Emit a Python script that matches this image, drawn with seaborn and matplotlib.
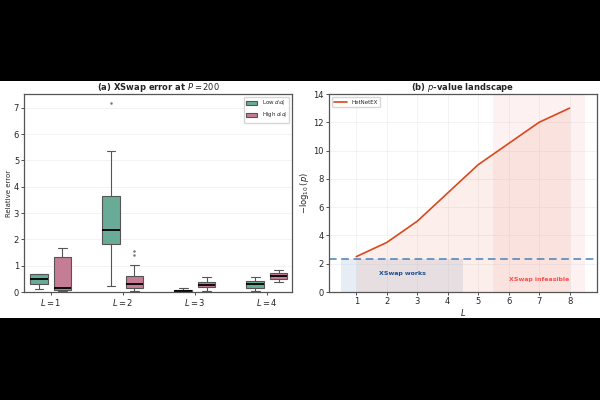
import numpy as np
import pandas as pd
import matplotlib
matplotlib.use("Agg")
import matplotlib.pyplot as plt
import seaborn as sns
from matplotlib.patches import Rectangle

# panel (a) data: relative error samples per path length and degree group
lengths = ["$L = 1$", "$L = 2$", "$L = 3$", "$L = 4$"]
groups = ["Low $d_i d_j$", "High $d_i d_j$"]
low_err = [
    [0.11, 0.25, 0.32, 0.44, 0.51, 0.60, 0.69, 0.70, 0.70],
    [0.23, 1.20, 1.82, 2.10, 2.34, 3.00, 3.63, 5.34, 7.18],
    [0.00, 0.005, 0.01, 0.02, 0.03, 0.05, 0.07, 0.11, 0.15],
    [0.04, 0.10, 0.17, 0.25, 0.32, 0.37, 0.41, 0.50, 0.57],
]
high_err = [
    [0.04, 0.06, 0.09, 0.13, 0.17, 0.80, 1.34, 1.50, 1.69],
    [0.04, 0.08, 0.11, 0.14, 0.20, 0.25, 0.29, 0.40, 0.52, 0.61, 1.04, 1.42, 1.56],
    [0.03, 0.12, 0.19, 0.25, 0.28, 0.32, 0.37, 0.45, 0.57],
    [0.37, 0.45, 0.51, 0.57, 0.61, 0.67, 0.74, 0.80, 0.85],
]

# panel (b) data
L_vals = [1, 2, 3, 4, 5, 6, 7, 8]
neglogp = [2.5, 3.5, 5.0, 7.0, 9.0, 10.5, 12.0, 13.0]
threshold = 2.3

rows = []
for i, lab in enumerate(lengths):
    for v in low_err[i]:
        rows.append((lab, groups[0], v))
    for v in high_err[i]:
        rows.append((lab, groups[1], v))
df = pd.DataFrame(rows, columns=["L", "group", "err"])

sns.set_style("whitegrid")
plt.rcParams["font.family"] = ["DejaVu Sans"]

fig = plt.figure(figsize=(6, 4), dpi=100)
fig.patch.set_facecolor("black")
fig.add_artist(Rectangle((0, 0.205), 1, 0.5925, transform=fig.transFigure,
                         facecolor="white", edgecolor="none", zorder=0))

ax1 = fig.add_axes([0.04, 0.27, 0.447, 0.495])
ax2 = fig.add_axes([0.548, 0.27, 0.447, 0.495])

# (a) boxplot
sns.boxplot(data=df, x="L", y="err", hue="group", order=lengths, hue_order=groups,
            palette=["#6aab98", "#c57d95"], saturation=1, width=0.65, gap=0.25,
            linewidth=0.8, linecolor="#555555", ax=ax1,
            medianprops=dict(color="black", linewidth=1.3),
            flierprops=dict(marker="o", markersize=0.8, markerfacecolor="#777777",
                            markeredgecolor="#777777"))
ax1.set_xlim(-0.37, 3.35)
ax1.set_ylim(0, 7.52)
ax1.set_xlabel("")
ax1.set_ylabel("Relative error", fontsize=5, labelpad=1)
ax1.set_title("(a) XSwap error at $P = 200$", fontsize=6, fontweight="bold", pad=3)
ax1.xaxis.grid(False)
ax1.yaxis.grid(True, color="#eeeeee", linewidth=0.5)
ax1.legend(loc="upper right", fontsize=4, frameon=True, handlelength=2,
           borderpad=0.4, labelspacing=0.3)

# (b) p-value landscape
ax2.fill_between([0.5, 4.5], 0, threshold, color="#aec6e0", alpha=0.3, linewidth=0)
ax2.axvspan(5.5, 8.5, color="#f6a3a3", alpha=0.15, linewidth=0)
ax2.fill_between(L_vals, 0, neglogp, color="#e8623a", alpha=0.1, linewidth=0)
sns.lineplot(x=L_vals, y=neglogp, color="#d9481c", linewidth=1.2, label="HetNetEX", ax=ax2)
ax2.axhline(threshold, color="#4a7fb5", linestyle="--", linewidth=1.1, dashes=(5, 3))
ax2.text(2.5, 1.3, "XSwap works", color="#1a4f8f", fontsize=4.5, fontweight="bold",
         ha="center", va="center")
ax2.text(7.0, 0.9, "XSwap infeasible", color="#ff4d4d", fontsize=4.5, fontweight="bold",
         ha="center", va="center")
ax2.set_xlim(0.1, 8.9)
ax2.set_ylim(0, 14)
ax2.set_xticks(L_vals)
ax2.set_yticks(range(0, 15, 2))
ax2.set_xlabel("$L$", fontsize=6, labelpad=1)
ax2.set_ylabel(r"$-\log_{10}(p)$", fontsize=6, labelpad=2)
ax2.set_title("(b) $p$-value landscape", fontsize=6, fontweight="bold", pad=3)
ax2.grid(True, color="#eeeeee", linewidth=0.5)
ax2.legend(loc="upper left", fontsize=4, frameon=True, handlelength=2.2, borderpad=0.5)

for ax in (ax1, ax2):
    ax.set_facecolor("white")
    ax.tick_params(labelsize=6, length=2, width=0.6, pad=1.5, color="#333333",
                   left=True, bottom=True)
    for s in ax.spines.values():
        s.set_color("#555555")
        s.set_linewidth(0.9)

fig.savefig("out.png", dpi=100, facecolor=fig.get_facecolor())
